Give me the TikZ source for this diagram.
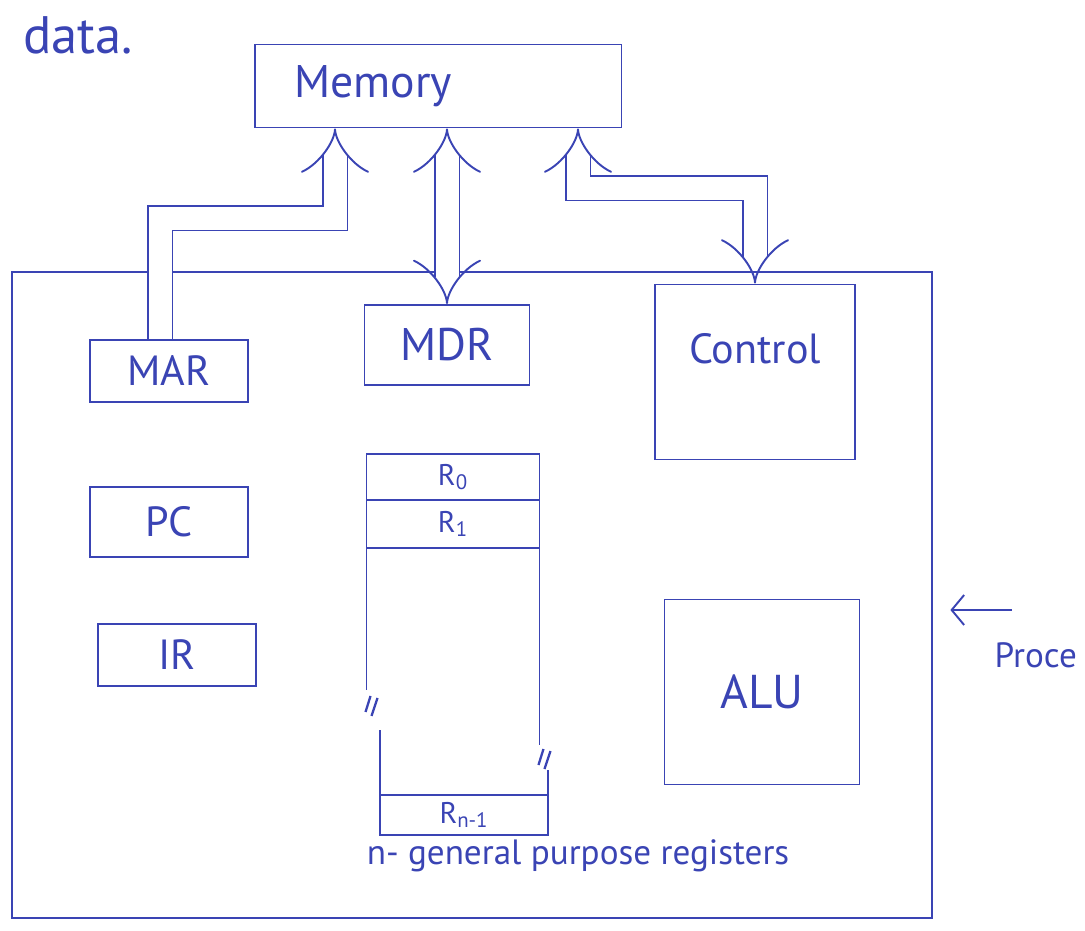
\documentclass[tikz,border=0pt]{standalone}
\usepackage{fontspec}
\setmainfont{PT Sans}
\usetikzlibrary{arrows.meta, positioning}
\definecolor{pen}{HTML}{3A44B4}

\begin{document}
\begin{tikzpicture}[
  x=0.02cm, y=-0.02cm,
  line width=1.1pt,
  every node/.style={text=pen},
  box/.style={draw=pen, minimum width=3.16cm, minimum height=1.24cm,
              font=\fontsize{24}{28}\selectfont},
  reg/.style={draw=pen, minimum width=3.46cm, minimum height=0.92cm,
              inner sep=0pt, outer sep=0pt, font=\fontsize{17}{20}\selectfont},
  bus/.style={draw=pen, double=white, double distance=0.46cm},
  arr/.style={draw=pen, -{Straight Barb[length=2.5mm, width=6mm]}},
  brk/.style={draw=pen, line width=1.3pt},
  hand/.style={font=\fontsize{20}{24}\selectfont},
  node distance=1.6cm,
]
\useasboundingbox (0,0) rectangle (1085,930);
\clip (0,0) rectangle (1085,930);

% processor outline
\node[draw=pen, minimum width=18.4cm, minimum height=12.92cm] (proc) at (472,595) {};

\node[font=\fontsize{30}{34}\selectfont] (data) at (78,35) {data.};

\node[box, text width=5.74cm, inner xsep=0.8cm, minimum height=1.66cm,
      align=left, font=\fontsize{26}{30}\selectfont] (mem) at (438,86) {Memory};

% registers on the left
\node[box] (MAR) at (169,371) {MAR};
\node[box, minimum height=1.4cm, below=1.66cm of MAR] (PC) {PC};
\node[box, below=1.3cm of PC, xshift=0.16cm] (IR) {IR};

\node[box, minimum width=3.3cm, minimum height=1.6cm,
      font=\fontsize{26}{30}\selectfont] (MDR) at (447,345) {MDR};
\node[box, minimum width=4cm, minimum height=3.5cm,
      label={[anchor=center, yshift=-1.3cm, font=\fontsize{24}{28}\selectfont]north:Control}]
      (ctrl) at (755,372) {};
\node[box, minimum width=3.9cm, minimum height=3.7cm,
      font=\fontsize{27}{30}\selectfont] (ALU) at (762,692) {ALU};

% register file
\node[reg] (R0) at (453,477) {R\textsubscript{0}};
\node[reg, minimum height=0.96cm, below=0pt of R0] (R1) {R\textsubscript{1}};
\node[reg, minimum width=3.36cm, minimum height=0.8cm] (Rn) at (464,815) {R\textsubscript{n-1}};

\draw[pen] (R1.south west) -- ++(0,142) coordinate (lgap);
\draw[pen] (Rn.north west) -- ++(0,-65) coordinate (lgap2);
\draw[pen] (R1.south east) -- ++(0,197) coordinate (rgap);
\draw[pen] (Rn.north east) -- ++(0,-25) coordinate (rgap2);
\draw[brk] ([shift={(-1,22)}]lgap) -- ++(5,-16);
\draw[brk] ([shift={(5,26)}]lgap) -- ++(6,-18);
\draw[brk] ([shift={(-1,20)}]rgap) -- ++(5,-16);
\draw[brk] ([shift={(5,24)}]rgap) -- ++(6,-18);

\node[hand] (gpr) at (578,856) {n- general purpose registers};

% buses to memory
\coordinate (b1) at (160,218);
\coordinate (b2) at (335,218);
\draw[bus, -{Implies}] (b1 |- MAR.north) -- (b1) -- (b2) -- (b2 |- mem.south);
\draw[bus, {Implies}-{Implies}] (mem.south -| MDR.north) -- (MDR.north);
\coordinate (c1) at (578,188);
\coordinate (c2) at (755,188);
\draw[bus, {Implies}-{Implies}] (c1 |- mem.south) -- (c1) -- (c2) -- (c2 |- ctrl.north);

% processor pointer
\node[font=\fontsize{20}{24}\selectfont, anchor=west, inner sep=1pt] (plbl) at (992,655) {Proce};
\coordinate (ptail) at (1012,610);
\draw[arr] (ptail) -- ([xshift=0.35cm]ptail -| proc.east);
\end{tikzpicture}
\end{document}
